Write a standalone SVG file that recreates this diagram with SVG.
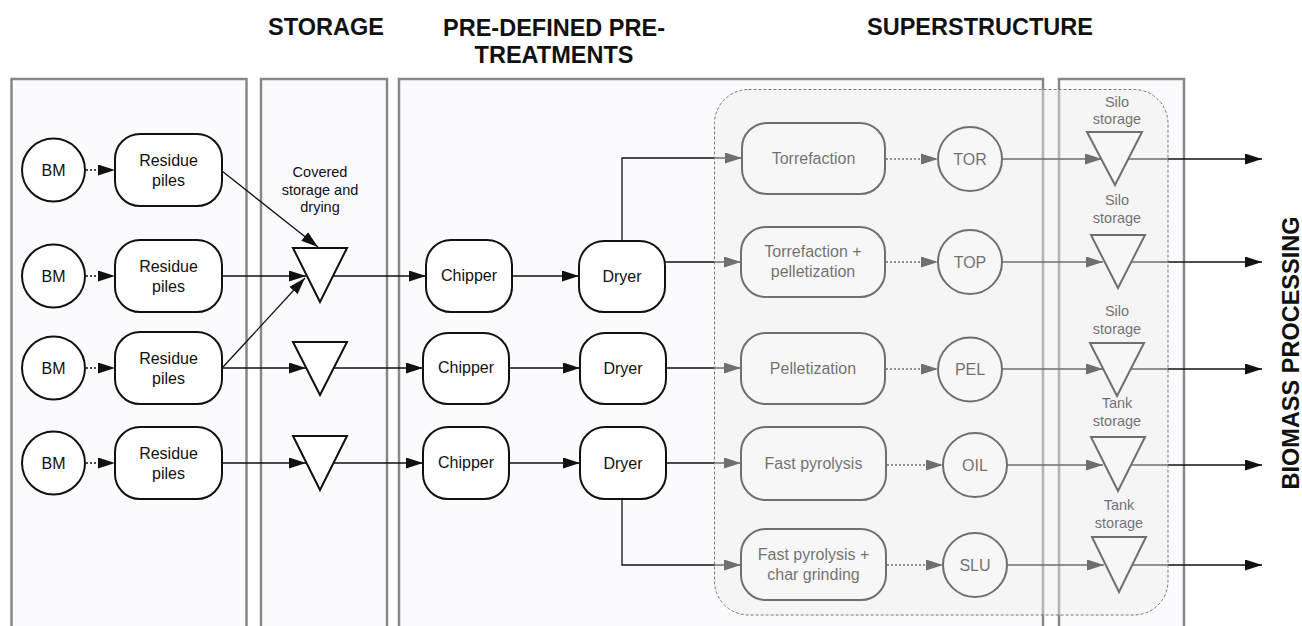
<svg xmlns="http://www.w3.org/2000/svg" width="1302" height="626" viewBox="0 0 1302 626">
<defs>
<marker id="ah" markerUnits="userSpaceOnUse" markerWidth="18" markerHeight="12" refX="17" refY="5.5" orient="auto"><path d="M0,0 L17,5.5 L0,11 z" fill="#111"/></marker>
<style>
.panel{fill:#fbfbfd;stroke:#888;stroke-width:2.5}
.node{fill:#fff;stroke:#111;stroke-width:2}
.tri{fill:#fff;stroke:#111;stroke-width:2}
.t{font-family:"Liberation Sans",Arial,sans-serif;font-size:16px;fill:#111;text-anchor:middle}
.s{font-family:"Liberation Sans",Arial,sans-serif;font-size:14.5px;fill:#111;text-anchor:middle}
.h{font-family:"Liberation Sans",Arial,sans-serif;font-size:23.5px;font-weight:bold;fill:#111;text-anchor:middle}
.c{fill:none;stroke:#111;stroke-width:1.3;marker-end:url(#ah)}
.d{fill:none;stroke:#111;stroke-width:1.3;stroke-dasharray:2 2;marker-end:url(#ah)}
.ss{fill:#ececec;fill-opacity:0.43;stroke:#777;stroke-width:1;stroke-dasharray:3 2}
</style>
</defs>
<g id="titles">
<text class="h" x="326" y="35">STORAGE</text>
<text class="h" x="554" y="36">PRE-DEFINED PRE-</text>
<text class="h" x="554" y="63">TREATMENTS</text>
<text class="h" x="980" y="35">SUPERSTRUCTURE</text>
<text class="h" transform="translate(1299,353) rotate(-90)" x="0" y="0">BIOMASS PROCESSING</text>
</g>
<g id="panels">
<rect class="panel" x="11.5" y="79" width="235" height="560"/>
<rect class="panel" x="261" y="79" width="126" height="560"/>
<rect class="panel" x="399" y="79" width="644" height="560"/>
<rect class="panel" x="1059" y="79" width="125" height="560"/>
</g>
<g id="connectors">
<line class="d" x1="86" y1="170" x2="115" y2="170"/>
<line class="d" x1="86" y1="276" x2="115" y2="276"/>
<line class="d" x1="86" y1="368" x2="115" y2="368"/>
<line class="d" x1="86" y1="463" x2="115" y2="463"/>
<line class="c" x1="222" y1="171" x2="318" y2="247"/>
<line class="c" x1="222" y1="276" x2="306" y2="276"/>
<line class="c" x1="223" y1="367" x2="305" y2="278"/>
<line class="c" x1="223" y1="368" x2="306" y2="368"/>
<line class="c" x1="222" y1="463" x2="306" y2="463"/>
<line class="c" x1="333" y1="276" x2="426" y2="276"/>
<line class="c" x1="333" y1="368" x2="423" y2="368"/>
<line class="c" x1="333" y1="463" x2="423" y2="463"/>
<line class="c" x1="512" y1="276" x2="579" y2="276"/>
<line class="c" x1="509" y1="368" x2="580" y2="368"/>
<line class="c" x1="509" y1="463" x2="580" y2="463"/>
<path class="c" d="M622,241 V158 H742"/>
<line class="c" x1="665" y1="262" x2="741" y2="262"/>
<line class="c" x1="666" y1="368" x2="741" y2="368"/>
<line class="c" x1="666" y1="463" x2="741" y2="463"/>
<path class="c" d="M622,500 V565 H741"/>
<line class="d" x1="886" y1="159" x2="938" y2="159"/>
<line class="d" x1="886" y1="262" x2="938" y2="262"/>
<line class="d" x1="886" y1="369" x2="938" y2="369"/>
<line class="d" x1="887" y1="465" x2="943" y2="465"/>
<line class="d" x1="887" y1="565" x2="943" y2="565"/>
<line class="c" x1="1002" y1="159" x2="1102" y2="159"/>
<line class="c" x1="1002" y1="262" x2="1103" y2="262"/>
<line class="c" x1="1002" y1="369" x2="1103" y2="369"/>
<line class="c" x1="1007" y1="465" x2="1103" y2="465"/>
<line class="c" x1="1007" y1="565" x2="1104" y2="565"/>
<line class="c" x1="1128" y1="159" x2="1262" y2="159"/>
<line class="c" x1="1130" y1="262" x2="1262" y2="262"/>
<line class="c" x1="1130" y1="369" x2="1262" y2="369"/>
<line class="c" x1="1130" y1="465" x2="1262" y2="465"/>
<line class="c" x1="1131" y1="565" x2="1262" y2="565"/>
</g>
<g id="bm1"><circle class="node" cx="53.5" cy="170" r="31.5"/><text class="t" x="53.5" y="176">BM</text></g>
<g id="bm2"><circle class="node" cx="53.5" cy="276" r="31.5"/><text class="t" x="53.5" y="282">BM</text></g>
<g id="bm3"><circle class="node" cx="53.5" cy="368" r="31.5"/><text class="t" x="53.5" y="374">BM</text></g>
<g id="bm4"><circle class="node" cx="53.5" cy="463" r="31.5"/><text class="t" x="53.5" y="469">BM</text></g>
<g id="res1"><rect class="node" x="115" y="134" width="107" height="72" rx="25"/><text class="t" x="168.5" y="166">Residue</text><text class="t" x="168.5" y="186">piles</text></g>
<g id="res2"><rect class="node" x="115" y="240" width="107" height="72" rx="25"/><text class="t" x="168.5" y="272">Residue</text><text class="t" x="168.5" y="292">piles</text></g>
<g id="res3"><rect class="node" x="115" y="332" width="107" height="72" rx="25"/><text class="t" x="168.5" y="364">Residue</text><text class="t" x="168.5" y="384">piles</text></g>
<g id="res4"><rect class="node" x="115" y="427" width="107" height="72" rx="25"/><text class="t" x="168.5" y="459">Residue</text><text class="t" x="168.5" y="479">piles</text></g>
<g id="storage-label"><text class="s" x="320" y="177">Covered</text><text class="s" x="320" y="194.5">storage and</text><text class="s" x="320" y="212">drying</text></g>
<g id="st1"><path class="tri" d="M293,248 H347 L320,302 z"/></g>
<g id="st2"><path class="tri" d="M293,342 H347 L320,395 z"/></g>
<g id="st3"><path class="tri" d="M293,436 H347 L320,490 z"/></g>
<g id="chip1"><rect class="node" x="426" y="240" width="86" height="72" rx="25"/><text class="t" x="469" y="281">Chipper</text></g>
<g id="chip2"><rect class="node" x="423" y="333" width="86" height="71" rx="25"/><text class="t" x="466" y="373">Chipper</text></g>
<g id="chip3"><rect class="node" x="423" y="427" width="86" height="72" rx="25"/><text class="t" x="466" y="468">Chipper</text></g>
<g id="dry1"><rect class="node" x="579" y="241" width="86" height="71" rx="25"/><text class="t" x="622" y="282">Dryer</text></g>
<g id="dry2"><rect class="node" x="580" y="333" width="86" height="71" rx="25"/><text class="t" x="623" y="374">Dryer</text></g>
<g id="dry3"><rect class="node" x="580" y="427" width="86" height="72" rx="25"/><text class="t" x="623" y="469">Dryer</text></g>
<g id="torr"><rect class="node" x="742" y="123" width="143" height="71" rx="25"/><text class="t" x="813.5" y="164">Torrefaction</text></g>
<g id="torrpel"><rect class="node" x="741" y="227" width="144" height="70" rx="25"/><text class="t" x="813" y="257">Torrefaction +</text><text class="t" x="813" y="277">pelletization</text></g>
<g id="pel"><rect class="node" x="741" y="333" width="144" height="71" rx="25"/><text class="t" x="813" y="374">Pelletization</text></g>
<g id="fp"><rect class="node" x="741" y="427" width="145" height="73" rx="25"/><text class="t" x="813.5" y="469">Fast pyrolysis</text></g>
<g id="fpc"><rect class="node" x="741" y="529" width="145" height="71" rx="25"/><text class="t" x="813.5" y="560">Fast pyrolysis +</text><text class="t" x="813.5" y="580">char grinding</text></g>
<g id="tor"><circle class="node" cx="970" cy="159" r="32"/><text class="t" x="970" y="165">TOR</text></g>
<g id="top"><circle class="node" cx="970" cy="262" r="32"/><text class="t" x="970" y="268">TOP</text></g>
<g id="pelc"><circle class="node" cx="970" cy="369.5" r="32"/><text class="t" x="970" y="375">PEL</text></g>
<g id="oil"><circle class="node" cx="975" cy="465" r="32"/><text class="t" x="975" y="471">OIL</text></g>
<g id="slu"><circle class="node" cx="975" cy="565" r="32"/><text class="t" x="975" y="571">SLU</text></g>
<g id="silo1"><text class="s" x="1117" y="107">Silo</text><text class="s" x="1117" y="124">storage</text><path class="tri" d="M1087,132 H1142 L1115,185 z"/></g>
<g id="silo2"><text class="s" x="1117" y="205">Silo</text><text class="s" x="1117" y="223">storage</text><path class="tri" d="M1091,235 H1145 L1118,288 z"/></g>
<g id="silo3"><text class="s" x="1117" y="316">Silo</text><text class="s" x="1117" y="334">storage</text><path class="tri" d="M1090,343 H1144 L1117,396 z"/></g>
<g id="tank1"><text class="s" x="1117" y="408">Tank</text><text class="s" x="1117" y="426">storage</text><path class="tri" d="M1091,437 H1145 L1118,491 z"/></g>
<g id="tank2"><text class="s" x="1119" y="510">Tank</text><text class="s" x="1119" y="528">storage</text><path class="tri" d="M1092,537 H1146 L1119,592 z"/></g>
<g id="superstructure"><rect class="ss" x="714.5" y="89.5" width="453.5" height="525.5" rx="34"/></g>
</svg>
